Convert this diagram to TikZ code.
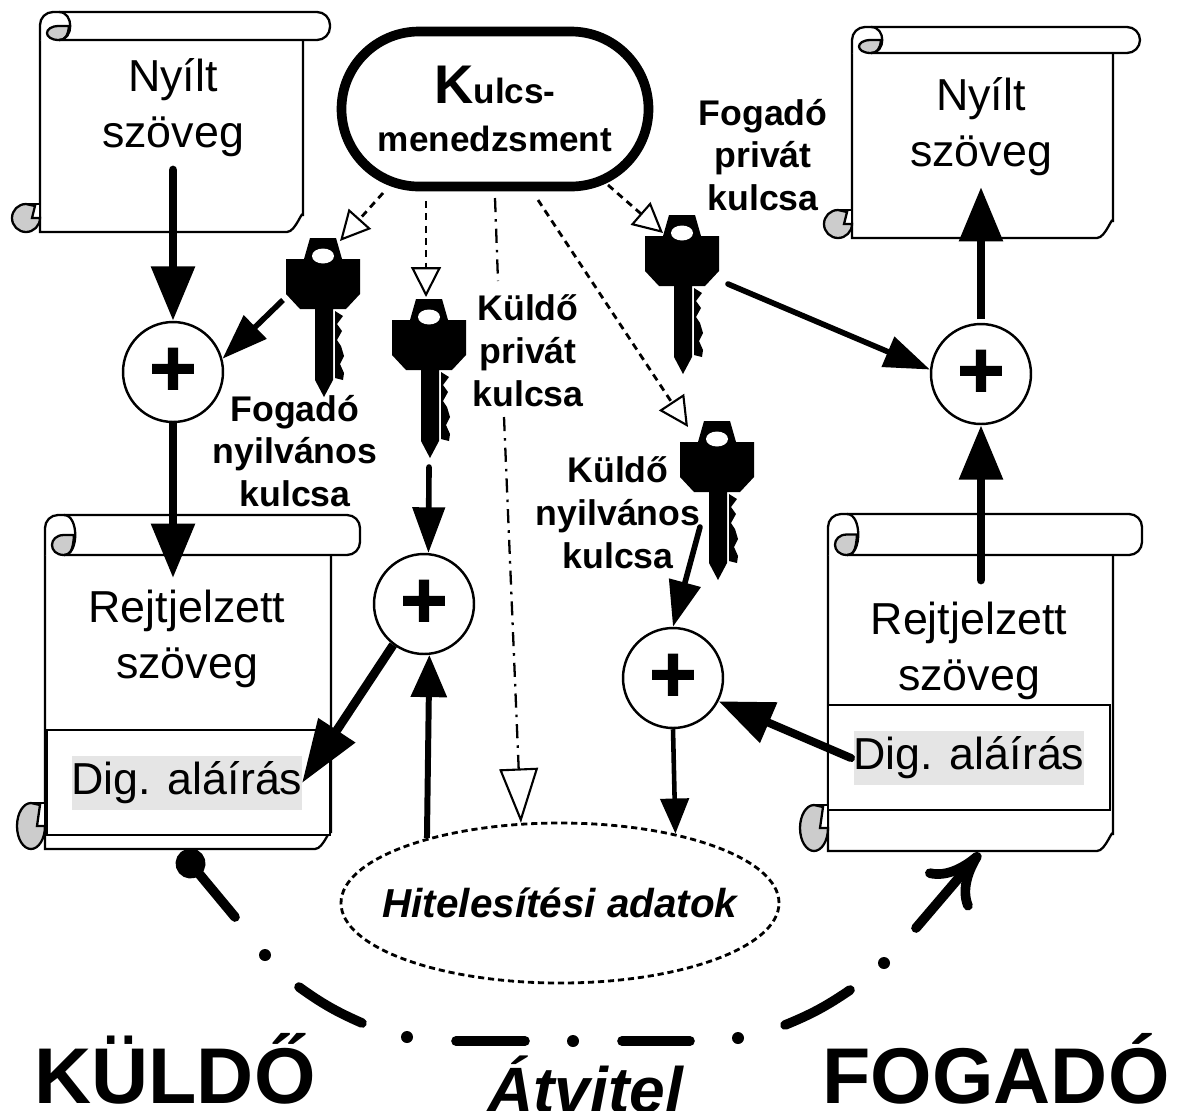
\documentclass[tikz,border=0pt]{standalone}
\usepackage{fontspec}
\setmainfont{Liberation Sans}
\usetikzlibrary{shapes, arrows.meta}
\definecolor{curlgray}{gray}{0.8}
\definecolor{signgray}{gray}{0.9}
\tikzset{
  keycut/.pic={
    \fill (-13,-18) -- (13,-18) -- (19,3) -- (37,3) -- (37,38) -- (23,53) -- (10,53) -- (10,124)
      -- (1,141) -- (-8,124) -- (-8,53) -- (-23,53) -- (-37,38) -- (-37,3) -- (-19,3) -- cycle;
    \fill[white] (0,0) ellipse (11 and 7.5);
    \fill (12,55) -- (20,60) -- (14,68) -- (19,75) -- (14,84) -- (18,90) -- (21,100) -- (17,108)
      -- (21,117) -- (20,124) -- (12,122) -- cycle;
  }
}
\begin{document}
\begin{tikzpicture}[x=0.02cm, y=-0.02cm,
    plaintext/.style={align=center, font=\fontsize{25.5}{32}\selectfont},
    boldtext/.style={align=center, font=\fontsize{20.3}{24.4}\selectfont\bfseries},
    signtext/.style={fill=signgray, inner sep=0pt, minimum height=54*0.02cm, font=\fontsize{25.5}{32}\selectfont},
    adder/.style={circle, draw, fill=white, line width=1.4pt, minimum size=2cm, inner sep=0pt, font=\fontsize{46}{46}\selectfont\bfseries\addfontfeature{FakeBold=1.5}},
    titletext/.style={anchor=base, inner sep=0pt, font=\fontsize{45}{45}\selectfont\bfseries},
    scrollline/.style={line width=1.3pt},
    heavy/.style={line width=5pt, -{Triangle[length=31pt,width=24pt]}},
    medium/.style={line width=3.2pt, -{Triangle[length=26pt,width=18pt]}},
    keyline/.style={line width=1.6pt, dash pattern=on 4pt off 3pt, -{Triangle[open,length=17pt,width=17pt,line width=1.2pt]}},
    dotline/.style={line width=1.3pt, dash pattern=on 8pt off 4pt on 1.5pt off 4pt},
    route/.style={line width=5.5pt, line cap=round},
  ]
  \clip (0,0) rectangle (1180,1110);
  % scrolls
  \foreach \l/\t/\m/\e/\r/\b/\ry in {40/12/40/330/303/232/14, 852/27/53/1140/1113/238/14, 45/515/555/360/331/849/23, 828/514/555/1142/1113/851/23} {
    \pgfmathsetmacro\g{\m-0.5*(\m-\t)}
    \draw[scrollline, fill=white] (\l,\m) -- (\l,\b) -- (\r-16,\b) to[out=0, in=90] (\r,\b-16) -- (\r,\m);
    \draw[scrollline, fill=white, rounded corners=0.26cm] (\l,\m) -- (\l,\t) -- (\e,\t) -- (\e,\m) -- (\l+19,\m);
    \draw[scrollline, fill=curlgray] (\l+19,\m) .. controls (\l+3,\m) and (\l+3,\g) .. (\l+19,\g)
      -- (\l+29,\g) .. controls (\l+28,\m-4) and (\l+25,\m) .. (\l+19,\m) -- cycle;
    \draw[scrollline] (\l+19,\t) .. controls (\l+34,\t) and (\l+34,\m) .. (\l+19,\m);
    \draw[scrollline, fill=white] (\l-14,\b-2*\ry) rectangle (\l,\b-\ry);
    \draw[scrollline, fill=curlgray] (\l-14,\b) arc[start angle=90, end angle=270, x radius=14, y radius=\ry]
      -- (\l-5,\b-2*\ry+2) -- (\l-8,\b-\ry) -- (\l,\b-\ry) arc[start angle=0, end angle=90, x radius=14, y radius=\ry];
  }
  \draw[scrollline, line width=1.6pt, fill=white] (47,730) rectangle (330,835);
  \draw[scrollline, line width=1.6pt, fill=white] (828,705) rectangle (1110,810);
  % texts
  \node[plaintext] (plainA) at (173,108) {Nyílt\\szöveg};
  \node[plaintext] (plainB) at (981,127) {Nyílt\\szöveg};
  \node[plaintext] (cipherA) at (187,639) {Rejtjelzett\\szöveg};
  \node[plaintext] (cipherB) at (969,651) {Rejtjelzett\\szöveg};
  \node[signtext] (signA) at (187,783) {Dig. aláírás};
  \node[signtext] (signB) at (969,758) {Dig. aláírás};
  \node[boldtext] (recvPub) at (295,451) {Fogadó\\nyilvános\\kulcsa};
  \node[boldtext] (recvPriv) at (763,155) {Fogadó\\privát\\kulcsa};
  \node[boldtext] (sendPriv) at (528,351) {Küldő\\privát\\kulcsa};
  \node[boldtext] (sendPub) at (618,513) {Küldő\\nyilvános\\kulcsa};
  % main boxes
  \node[rounded rectangle, draw, line width=5.5pt, minimum width=307*0.02cm, minimum height=155*0.02cm, align=center, inner sep=0pt] (mgmt) at (495,109)
    {\fontsize{31}{31}\selectfont\bfseries K\fontsize{20}{24}\selectfont ulcs-\\[12pt]\fontsize{20}{24}\selectfont\bfseries menedzsment};
  \node[ellipse, draw, line width=1.6pt, dash pattern=on 3.5pt off 2.2pt, minimum width=438*0.02cm, minimum height=160*0.02cm, inner sep=0pt] (auth) at (560,903) {};
  \node[font=\fontsize{23}{28}\selectfont\bfseries\itshape] (authText) at (560,903) {Hitelesítési adatok};
  \node[adder] (addA) at (173,372) {+};
  \node[adder] (addB) at (424,604) {+};
  \node[adder] (addC) at (673,678) {+};
  \node[adder] (addD) at (981,374) {+};
  % keys
  \pic at (323,256) {keycut};
  \pic at (429,317) {keycut};
  \pic at (682,233) {keycut};
  \pic at (717,439) {keycut};
  % free ends
  \coordinate (plainAout) at (173,170);
  \coordinate (cipherAin) at (173,578);
  \coordinate (plainBin) at (981,187);
  \coordinate (cipherBout) at (981,580);
  \coordinate (signBout) at (851,758);
  \coordinate (signAin) at (302,783);
  \coordinate (keyAout) at (283,300);
  \coordinate (keyBout) at (429,467);
  \coordinate (keyCout) at (728,284);
  \coordinate (keyDout) at (700,527);
  \coordinate (keyAin) at (340,241);
  \coordinate (keyBin) at (426,297);
  \coordinate (keyCin) at (663,233);
  \coordinate (keyDin) at (688,427);
  \coordinate (mgmtA) at (383,193);
  \coordinate (mgmtB) at (426,201);
  \coordinate (mgmtC) at (495,198);
  \coordinate (mgmtD) at (538,200);
  \coordinate (mgmtE) at (608,185);
  \coordinate (privTop) at (498,281);
  \coordinate (privLow) at (504,417);
  % connectors
  \draw[heavy, line cap=round] (plainAout) -- (addA.north);
  \draw[heavy] (addA.south) -- (cipherAin);
  \draw[medium] (keyAout) -- (addA.15);
  \draw[medium, line cap=round] (keyBout) -- (addB.85);
  \draw[heavy, -{Triangle[length=36pt,width=24pt]}] (addB.-127) -- (signAin);
  \draw[medium, line width=3.4pt, -{Triangle[length=24pt,width=20pt]}] (auth.154) -- (addB.-84);
  \draw[medium, line cap=round] (keyDout) -- (addC.north);
  \draw[heavy, line width=4.6pt, line cap=round] (signBout) -- (addC.-27);
  \draw[medium, line width=2.6pt, -{Triangle[length=20pt,width=16pt]}] (addC.south) -- (auth.31);
  \draw[medium, line cap=round] (keyCout) -- (addD.175);
  \draw[heavy, shorten <=2pt] (addD.north) -- (plainBin);
  \draw[heavy, line cap=round] (cipherBout) -- (addD.south);
  \draw[keyline] (mgmtA) -- (keyAin);
  \draw[keyline] (mgmtB) -- (keyBin);
  \draw[keyline] (mgmtE) -- (keyCin);
  \draw[keyline] (mgmtD) -- (keyDin);
  \draw[dotline] (mgmtC) -- (privTop);
  \draw[dotline, -{Triangle[open,length=31pt,width=22pt,line width=1.2pt]}] (privLow) -- (auth.116);
  % transmission route
  \coordinate (routeStart) at (181,852);
  \coordinate (routeEnd) at (980,853);
  \draw[route, {Circle[length=17pt]}-] (routeStart) -- (235,917);
  \draw[route] (299,987) to[bend right=6] (362,1023);
  \draw[route] (456,1041) -- (525,1041);
  \draw[route] (622,1041) -- (690,1041);
  \draw[route] (785,1025) to[bend right=6] (850,990);
  \draw[route, -{Computer Modern Rightarrow[length=30pt,width=34pt]}] (916,928) -- (routeEnd);
  \foreach \x/\y in {265/955, 407/1037, 573/1041, 738/1038, 884/963} {
    \fill (\x,\y) circle (6);
  }
  % titles
  \node[titletext] (sender) at (175,1103) {KÜLDŐ};
  \node[titletext] (receiver) at (996,1103) {FOGADÓ};
  \node[anchor=base, inner sep=0pt, font=\fontsize{36.5}{36.5}\selectfont\bfseries\itshape] (transfer) at (585,1112) {Átvitel};
\end{tikzpicture}
\end{document}
